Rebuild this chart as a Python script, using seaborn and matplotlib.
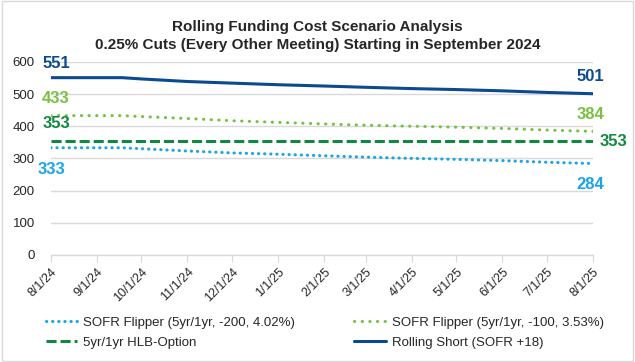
import pandas as pd
import numpy as np
import matplotlib
matplotlib.use("Agg")
import matplotlib.pyplot as plt
from matplotlib.patches import Rectangle
import seaborn as sns

# data (bps)
dates = ["2024-08-01", "2024-09-01", "2024-09-18", "2024-10-01", "2024-11-01", "2024-12-01",
         "2025-01-01", "2025-02-01", "2025-03-01", "2025-04-01", "2025-05-01", "2025-06-01",
         "2025-07-01", "2025-08-01"]
rolling_short = [551, 551, 551, 547, 539, 534, 529, 525, 521, 517, 514, 510, 505, 501]
flipper_100 = [433, 433, 433, 430, 424, 417, 412, 407, 403, 400, 397, 393, 388, 384]
flipper_200 = [333, 333, 333, 330, 323, 317, 313, 308, 304, 300, 297, 293, 288, 284]
hlb_option = [353] * 14

tick_dates = ["2024-08-01", "2024-09-01", "2024-10-01", "2024-11-01", "2024-12-01", "2025-01-01",
              "2025-02-01", "2025-03-01", "2025-04-01", "2025-05-01", "2025-06-01", "2025-07-01",
              "2025-08-01"]

names = ["SOFR Flipper (5yr/1yr, -200, 4.02%)", "SOFR Flipper (5yr/1yr, -100, 3.53%)",
         "5yr/1yr HLB-Option", "Rolling Short (SOFR +18)"]
colors = ["#1ca5e6", "#7ac143", "#11883f", "#0c4a8f"]

sns.set_style("white")
plt.rcParams['font.family'] = ['Liberation Sans', 'DejaVu Sans']

df = pd.DataFrame({"date": pd.to_datetime(dates), names[0]: flipper_200, names[1]: flipper_100,
                   names[2]: hlb_option, names[3]: rolling_short})

fig = plt.figure(figsize=(6.35, 3.62), dpi=100)
ax = fig.add_axes([0.080, 0.296, 0.854, 0.533])

styles = [(0, (0.1, 1.9)), (0, (0.1, 2.4)), (0, (3.3, 1.3)), "-"]
caps = ["round", "round", "butt", "butt"]
for name, c, ls, cap in zip(names, colors, styles, caps):
    sns.lineplot(data=df, x="date", y=name, ax=ax, color=c, linestyle=ls, linewidth=2.2,
                 label=name, dash_capstyle=cap)

ax.set_ylim(0, 600)
ax.set_yticks(range(0, 601, 100))
ax.set_xlim(pd.Timestamp(dates[0]), pd.Timestamp(dates[-1]))
ticks = pd.to_datetime(tick_dates)
ax.set_xticks(ticks)
ax.set_xticklabels([f"{d.month}/{d.day}/{d:%y}" for d in ticks], rotation=45, ha="right",
                   rotation_mode="anchor", fontsize=9)
ax.tick_params(axis="y", labelsize=9.5, length=0, pad=11.5)
ax.tick_params(axis="x", length=5, color="#d9d9d9", direction="out", bottom=True, pad=3)
ax.set_xlabel("")
ax.set_ylabel("")
ax.grid(axis="y", color="#d9d9d9", linewidth=1)
for s in ["top", "right", "left"]:
    ax.spines[s].set_visible(False)
ax.spines["bottom"].set_color("#d9d9d9")
ax.spines["bottom"].set_linewidth(1)
ax.set_axisbelow(True)

# value labels at start and end of each line
x0 = pd.Timestamp(dates[0])
x1 = pd.Timestamp(dates[-1])
lab = dict(fontsize=12, fontweight="bold", clip_on=False, textcoords="offset pixels", ha="center")
ax.annotate(str(rolling_short[0]), (x0, rolling_short[0]), xytext=(6, 10), color=colors[3], va="baseline", **lab)
ax.annotate(str(flipper_100[0]), (x0, flipper_100[0]), xytext=(5, 13), color=colors[1], va="baseline", **lab)
ax.annotate(str(hlb_option[0]), (x0, hlb_option[0]), xytext=(6, 13), color=colors[2], va="baseline", **lab)
ax.annotate(str(flipper_200[0]), (x0, flipper_200[0]), xytext=(1, -14), color=colors[0], va="top", **lab)
ax.annotate(str(rolling_short[-1]), (x1, rolling_short[-1]), xytext=(-3, 13), color=colors[3], va="baseline", **lab)
ax.annotate(str(flipper_100[-1]), (x1, flipper_100[-1]), xytext=(-3, 12), color=colors[1], va="baseline", **lab)
ax.annotate(str(hlb_option[-1]), (x1, hlb_option[-1]), xytext=(20, 0), color=colors[2], va="center", **lab)
ax.annotate(str(flipper_200[-1]), (x1, flipper_200[-1]), xytext=(-3, -13), color=colors[0], va="top", **lab)

fig.suptitle("Rolling Funding Cost Scenario Analysis\n0.25% Cuts (Every Other Meeting) Starting in September 2024",
             x=0.5, y=0.945, va="top", fontsize=11, fontweight="bold", linespacing=1.4)

handles, labels = ax.get_legend_handles_labels()
ax.get_legend().remove()
order = [0, 2, 1, 3]
fig.legend([handles[i] for i in order], [labels[i] for i in order], ncol=2, loc="upper left",
           bbox_to_anchor=(0.053, 0.158), frameon=False, fontsize=9.5, handlelength=2.4,
           columnspacing=4.5, labelspacing=0.6, handletextpad=0.45)

fig.patches.append(Rectangle((0.003, 0.004), 0.994, 0.992, transform=fig.transFigure,
                             fill=False, edgecolor="#d9d9d9", linewidth=1))

fig.savefig("out.png", dpi=100)
